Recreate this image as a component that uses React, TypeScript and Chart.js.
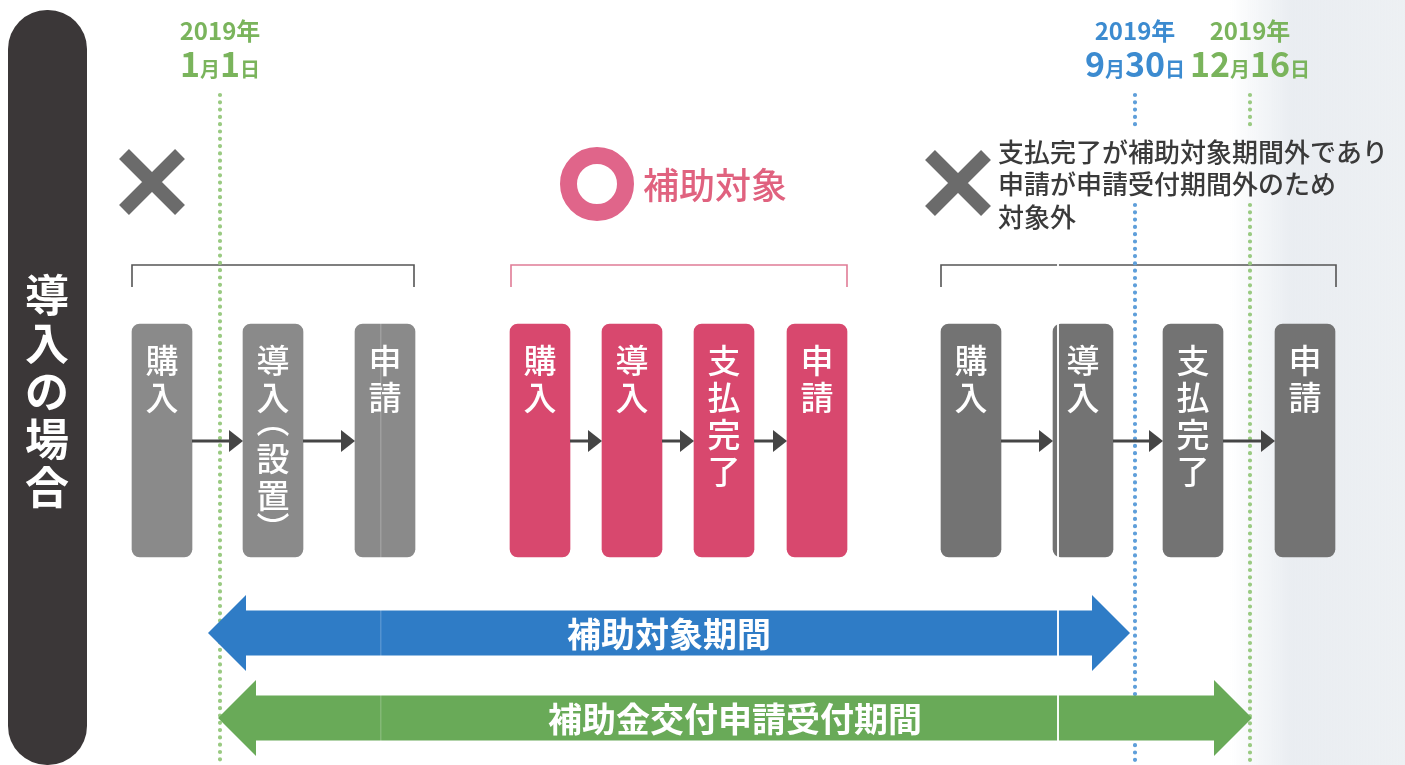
import React, { useEffect, useRef } from 'react';
import { Chart, registerables } from 'chart.js';

Chart.register(...registerables);

// ---------------- DATA ----------------
const sideTitle = '導入の場合';
const dateYears = ['2019年', '2019年', '2019年'];
const dateMonths = ['1', '9', '12'];
const dateDays = ['1', '30', '16'];
const groupEligible = [false, true, false];
const groupHeadline = ['', '補助対象', ''];
const groupNote = ['', '', '支払完了が補助対象期間外であり\n申請が申請受付期間外のため\n対象外'];
const stepsGroup1 = ['購入', '導入︵設置︶', '申請'];
const stepsGroup2 = ['購入', '導入', '支払完了', '申請'];
const stepsGroup3 = ['購入', '導入', '支払完了', '申請'];
const periodLabels = ['補助対象期間', '補助金交付申請受付期間'];
const periodStart = [0, 0];
const periodEnd = [1, 2];

const groups = [stepsGroup1, stepsGroup2, stepsGroup3];

// ---------------- LAYOUT / STYLE ----------------
const W = 1405;
const H = 765;
const FONT = "'Noto Sans CJK JP', 'Noto Sans', sans-serif";
const BOX_X = [
  [162, 273, 385],
  [540, 632, 724, 817],
  [971, 1083, 1193, 1305],
];
const BOX_Y = [324, 557];
const BOX_W = 60;
const GROUP_FILL = ['#8a8a8a', '#d8486e', '#737373'];
const BRACKET_X = [
  [132, 414],
  [511, 847],
  [941, 1336],
];
const BRACKET_Y = 265;
const BRACKET_DROP = 22;
const BRACKET_COLOR = ['#555555', '#e07c96', '#555555'];
const MARK_POS = [
  [152, 182],
  [597, 184],
  [958, 183],
];
const DATE_X = [220, 1135, 1250];
const DATE_COLOR = ['#7ab45c', '#3c8bd0', '#7ab45c'];
const DOT_COLOR = ['#9aca82', '#5f9fda', '#9aca82'];
const DATE_LINE_GAP: (number[] | null)[] = [null, [128, 205], [128, 205]];
const PERIOD_Y = [633, 718];
const PERIOD_FILL = ['#2f7cc6', '#69aa58'];
const PERIOD_TIP = [
  [-12, -5],
  [-2, 2],
];

function lineData(i: number) {
  const x = DATE_X[i];
  const gap = DATE_LINE_GAP[i];
  if (!gap) return [{ x, y: 95 }, { x, y: H }];
  return [{ x, y: 95 }, { x, y: gap[0] }, { x, y: null }, { x, y: gap[1] }, { x, y: H }];
}

const diagramPlugin = {
  id: 'diagram',
  beforeDatasetsDraw(chart: any) {
    const ctx: CanvasRenderingContext2D = chart.ctx;
    const sx = (v: number) => chart.scales.x.getPixelForValue(v);
    const sy = (v: number) => chart.scales.y.getPixelForValue(v);
    ctx.save();
    // right paper shading
    const g = ctx.createLinearGradient(sx(1230), 0, sx(W), 0);
    g.addColorStop(0, 'rgba(228,233,239,0)');
    g.addColorStop(0.35, 'rgba(230,234,239,0.85)');
    g.addColorStop(1, 'rgba(237,240,243,1)');
    ctx.fillStyle = g;
    ctx.fillRect(sx(1230), sy(0), sx(W) - sx(1230), sy(H) - sy(0));

    // sidebar
    ctx.fillStyle = '#3b3738';
    ctx.beginPath();
    (ctx as any).roundRect(sx(8), sy(10), sx(87) - sx(8), sy(765) - sy(10), 39);
    ctx.fill();
    ctx.fillStyle = '#ffffff';
    ctx.font = `bold 44px ${FONT}`;
    ctx.textAlign = 'center';
    ctx.textBaseline = 'middle';
    Array.from(sideTitle).forEach((ch, i) => ctx.fillText(ch, sx(47), sy(295 + i * 48)));

    // brackets
    BRACKET_X.forEach((bx, gi) => {
      ctx.strokeStyle = BRACKET_COLOR[gi];
      ctx.lineWidth = 1.6;
      ctx.beginPath();
      ctx.moveTo(sx(bx[0]), sy(BRACKET_Y + BRACKET_DROP));
      ctx.lineTo(sx(bx[0]), sy(BRACKET_Y));
      ctx.lineTo(sx(bx[1]), sy(BRACKET_Y));
      ctx.lineTo(sx(bx[1]), sy(BRACKET_Y + BRACKET_DROP));
      ctx.stroke();
    });

    // date labels
    DATE_X.forEach((dx, i) => {
      const cx = sx(dx);
      ctx.fillStyle = DATE_COLOR[i];
      ctx.textAlign = 'center';
      ctx.textBaseline = 'alphabetic';
      ctx.font = `bold 24px ${FONT}`;
      ctx.fillText(dateYears[i], cx, sy(40));
      const segs: [string, number][] = [
        [dateMonths[i], 34],
        ['月', 20],
        [dateDays[i], 34],
        ['日', 20],
      ];
      const widths = segs.map(([t, s]) => {
        ctx.font = `bold ${s}px ${FONT}`;
        return ctx.measureText(t).width;
      });
      const total = widths.reduce((a, b) => a + b, 0);
      let x = cx - total / 2;
      ctx.textAlign = 'left';
      segs.forEach(([t, s], k) => {
        ctx.font = `bold ${s}px ${FONT}`;
        ctx.fillText(t, x, sy(77));
        x += widths[k];
      });
    });
    ctx.restore();
  },
  afterDatasetsDraw(chart: any) {
    const ctx: CanvasRenderingContext2D = chart.ctx;
    const sx = (v: number) => chart.scales.x.getPixelForValue(v);
    const sy = (v: number) => chart.scales.y.getPixelForValue(v);
    ctx.save();

    // step text + connecting arrows
    groups.forEach((steps, gi) => {
      steps.forEach((label, si) => {
        const cx = sx(BOX_X[gi][si]);
        ctx.fillStyle = '#ffffff';
        ctx.font = `500 33px ${FONT}`;
        ctx.textAlign = 'center';
        ctx.textBaseline = 'middle';
        let cursor = 342;
        for (const ch of Array.from(label)) {
          if (ch === '︵') {
            ctx.fillText(ch, cx, sy(cursor + 4));
            cursor += 24;
          } else if (ch === '︶') {
            ctx.fillText(ch, cx, sy(cursor + 14));
            cursor += 24;
          } else {
            ctx.fillText(ch, cx, sy(cursor + 18.5));
            cursor += 37;
          }
        }
        if (si < steps.length - 1) {
          const x0 = sx(BOX_X[gi][si] + BOX_W / 2);
          const x1 = sx(BOX_X[gi][si + 1] - BOX_W / 2);
          const y = sy(441);
          ctx.strokeStyle = '#454545';
          ctx.fillStyle = '#454545';
          ctx.lineWidth = 3;
          ctx.beginPath();
          ctx.moveTo(x0, y);
          ctx.lineTo(x1 - 12, y);
          ctx.stroke();
          ctx.beginPath();
          ctx.moveTo(x1 - 14, y - 11);
          ctx.lineTo(x1, y);
          ctx.lineTo(x1 - 14, y + 11);
          ctx.closePath();
          ctx.fill();
        }
      });
    });

    // verdict marks & headings
    groupEligible.forEach((ok, gi) => {
      const [mx, my] = MARK_POS[gi];
      if (ok) {
        ctx.strokeStyle = '#e0658a';
        ctx.lineWidth = 17;
        ctx.beginPath();
        ctx.arc(sx(mx), sy(my), 28.5, 0, Math.PI * 2);
        ctx.stroke();
      } else {
        ctx.strokeStyle = '#6b6b6b';
        ctx.lineWidth = 14;
        ctx.lineCap = 'butt';
        const d = 28;
        ctx.beginPath();
        ctx.moveTo(sx(mx - d), sy(my - d));
        ctx.lineTo(sx(mx + d), sy(my + d));
        ctx.moveTo(sx(mx + d), sy(my - d));
        ctx.lineTo(sx(mx - d), sy(my + d));
        ctx.stroke();
      }
      if (groupHeadline[gi]) {
        ctx.fillStyle = '#e0627f';
        ctx.font = `500 36px ${FONT}`;
        ctx.textAlign = 'left';
        ctx.textBaseline = 'middle';
        ctx.fillText(groupHeadline[gi], sx(mx + 46), sy(my + 1));
      }
      if (groupNote[gi]) {
        ctx.fillStyle = '#3a3a3a';
        ctx.font = `500 26px ${FONT}`;
        ctx.textAlign = 'left';
        ctx.textBaseline = 'middle';
        groupNote[gi].split('\n').forEach((ln, k) => {
          ctx.fillText(ln, sx(mx + 40), sy(152 + k * 32.5));
        });
      }
    });

    // period arrows
    periodLabels.forEach((label, pi) => {
      const x0 = sx(DATE_X[periodStart[pi]] + PERIOD_TIP[pi][0]);
      const x1 = sx(DATE_X[periodEnd[pi]] + PERIOD_TIP[pi][1]);
      const cy = sy(PERIOD_Y[pi]);
      const hl = 38, hh = 38, sh = 22.5;
      ctx.fillStyle = PERIOD_FILL[pi];
      ctx.beginPath();
      ctx.moveTo(x0, cy);
      ctx.lineTo(x0 + hl, cy - hh);
      ctx.lineTo(x0 + hl, cy - sh);
      ctx.lineTo(x1 - hl, cy - sh);
      ctx.lineTo(x1 - hl, cy - hh);
      ctx.lineTo(x1, cy);
      ctx.lineTo(x1 - hl, cy + hh);
      ctx.lineTo(x1 - hl, cy + sh);
      ctx.lineTo(x0 + hl, cy + sh);
      ctx.lineTo(x0 + hl, cy + hh);
      ctx.closePath();
      ctx.fill();
      ctx.fillStyle = '#ffffff';
      ctx.font = `bold 34px ${FONT}`;
      ctx.textAlign = 'center';
      ctx.textBaseline = 'middle';
      ctx.fillText(label, (x0 + x1) / 2, cy + 1);
    });

    // paper seams
    ctx.fillStyle = 'rgba(255,255,255,0.95)';
    ctx.fillRect(sx(1057), sy(258), 2, sy(H) - sy(258));
    ctx.fillStyle = 'rgba(255,255,255,0.18)';
    ctx.fillRect(sx(380), sy(320), 1.5, sy(H) - sy(320));
    ctx.restore();
  },
};

export default function App() {
  const ref = useRef<HTMLCanvasElement | null>(null);
  useEffect(() => {
    document.body.style.margin = '0';
    document.body.style.background = '#ffffff';
    if (!ref.current) return;
    const lineSets = DATE_X.map((_, i) => ({
      type: 'line' as const,
      data: lineData(i),
      borderColor: DOT_COLOR[i],
      borderWidth: 4.2,
      borderDash: [0, 7.3],
      borderCapStyle: 'round' as const,
      pointRadius: 0,
      fill: false,
      spanGaps: false,
      tension: 0,
      order: 10,
    }));
    const barSets = groups.map((steps, gi) => ({
      type: 'bar' as const,
      data: steps.map((_, si) => ({ x: BOX_X[gi][si], y: [BOX_Y[0], BOX_Y[1]] })),
      backgroundColor: GROUP_FILL[gi],
      barThickness: BOX_W,
      borderRadius: 8,
      borderSkipped: false,
      grouped: false,
      order: 5,
    }));
    const chart = new Chart(ref.current, {
      type: 'bar',
      data: { datasets: [...barSets, ...lineSets] as any },
      options: {
        animation: false,
        responsive: false,
        maintainAspectRatio: false,
        devicePixelRatio: 1,
        layout: { padding: 0 },
        events: [],
        plugins: { legend: { display: false }, tooltip: { enabled: false }, title: { display: false } },
        scales: {
          x: { type: 'linear', min: 0, max: W, display: false, offset: false },
          y: { type: 'linear', min: 0, max: H, reverse: true, display: false },
        },
      } as any,
      plugins: [diagramPlugin],
    });
    return () => chart.destroy();
  }, []);
  return (
    <div style={{ width: W, height: H, position: 'relative', background: '#fff' }}>
      <canvas ref={ref} width={W} height={H} style={{ width: W, height: H, display: 'block' }} />
    </div>
  );
}
